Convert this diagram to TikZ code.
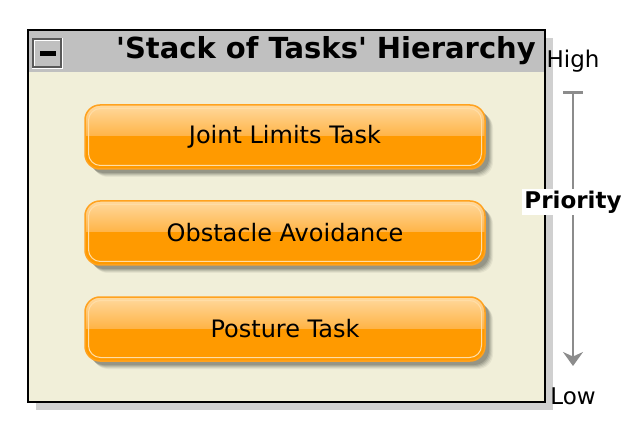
\documentclass[tikz,border=0pt]{standalone}
\usepackage{fontspec}
\setmainfont{DejaVu Sans}
\newfontfamily\plainfont{DejaVu Sans}
\usetikzlibrary{arrows.meta}
\definecolor{bodybg}{HTML}{F1EFD9}
\definecolor{titlebg}{HTML}{C0C0C0}
\definecolor{shadowgray}{HTML}{D0D0D0}
\definecolor{orangeA}{HTML}{FF9A00}
\definecolor{orangeTop}{HTML}{FFD99E}
\definecolor{orangeMid}{HTML}{FFB447}
\definecolor{orangeEdge}{HTML}{FFA21F}
\definecolor{orangeInner}{HTML}{FFDDA6}
\definecolor{arrowgray}{HTML}{8C8C8C}
\tikzset{
  btntext/.style={font=\fontsize{24}{28}\selectfont, text=black},
  lbl/.style={font=\fontsize{23}{27}\selectfont, text=black}
}
\newcommand{\mybutton}[3]{% name, top y, text
  \begin{scope}
    \foreach \k/\op in {8/0.05,7/0.07,6/0.09,5/0.11,4/0.12}{
      \fill[black, opacity=\op, rounded corners=15pt] (85+\k,#2+\k) rectangle (485+\k,#2+64+\k);
    }
    \fill[orangeA, rounded corners=15pt] (85,#2) rectangle (485,#2+64);
    \begin{scope}
      \clip[rounded corners=15pt] (85,#2) rectangle (485,#2+64);
      \shade[top color=orangeTop, bottom color=orangeMid] (85,#2) rectangle (485,#2+31);
    \end{scope}
    \draw[orangeEdge, line width=1.5pt, rounded corners=15pt] (85,#2) rectangle (485,#2+64);
    \draw[orangeInner, line width=1pt, rounded corners=12pt] (88.5,#2+3.5) rectangle (481.5,#2+60.5);
    \node[btntext] (#1) at (285,#2+32) {#3};
  \end{scope}
}
\begin{document}
\begin{tikzpicture}[x=1pt,y=-1pt]
\useasboundingbox (0,0) rectangle (638,433);
\fill[white] (0,0) rectangle (638,433);
% frame shadow
\fill[shadowgray] (36,38) rectangle (553,410);
% frame
\fill[bodybg] (28,30) rectangle (545,402);
\fill[titlebg] (28,30) rectangle (545,72);
\draw[black, line width=1.5pt] (28,30) rectangle (545,402);
% minus box
\fill[white] (32,38) rectangle (63,69);
\draw[gray!70!black, line width=1.5pt] (33,39) rectangle (61,67);
\fill[titlebg] (35,41) rectangle (60,66);
\fill[black] (40,51) rectangle (56,56);
\node[font=\plainfont\bfseries\fontsize{29}{33}\selectfont, anchor=center] (title) at (326,51) {'Stack of Tasks' Hierarchy};
% buttons
\mybutton{jl}{105}{Joint Limits Task}
\mybutton{oa}{201}{Obstacle Avoidance}
\mybutton{pt}{297}{Posture Task}
% priority axis
\node[lbl, anchor=center] (high) at (573,61) {High};
\node[lbl, anchor=center] (low) at (573,396) {Low};
\coordinate (top) at (573,93);
\coordinate (bot) at (573,366);
\draw[arrowgray, line width=2pt, -{Stealth[length=14pt,width=20pt]}] (top) -- (bot);
\draw[arrowgray, line width=3pt] (563,93) -- (583,93);
\node[font=\bfseries\fontsize{23}{27}\selectfont, fill=white, inner sep=2pt] (prio) at (573,202) {Priority};
\end{tikzpicture}
\end{document}
